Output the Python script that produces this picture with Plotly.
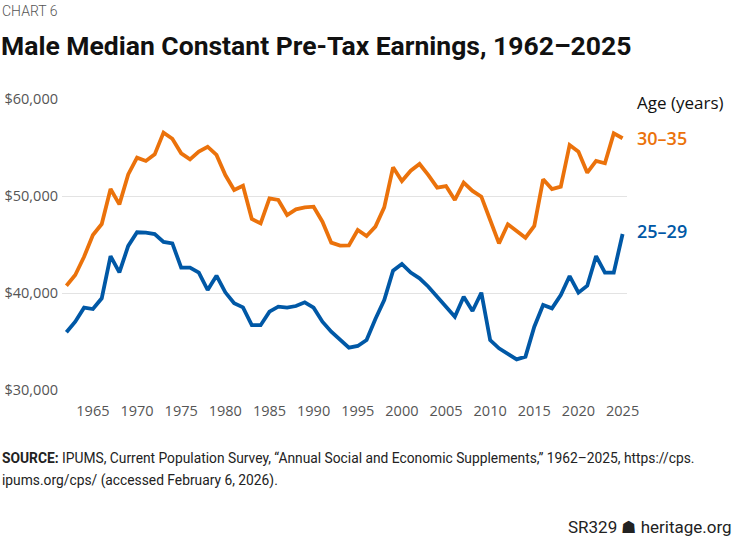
import plotly.graph_objects as go

years = list(range(1962, 2026))

age_30_35 = [40750, 41850, 43740, 45980, 47110, 50720, 49140, 52230, 53950, 53610,
             54290, 56530, 55900, 54400, 53780, 54570, 55080, 54230, 52160, 50620,
             51060, 47630, 47180, 49760, 49590, 48040, 48620, 48830, 48900, 47350,
             45190, 44880, 44900, 46500, 45880, 46840, 48830, 52960, 51550, 52610,
             53300, 52160, 50860, 51030, 49590, 51370, 50520, 49930, 47530, 45120,
             47080, 46390, 45700, 46910, 51720, 50720, 50960, 55260, 54570, 52400,
             53610, 53370, 56460, 55950]

age_25_29 = [35950, 37040, 38490, 38350, 39450, 43810, 42130, 44850, 46260, 46220,
             46080, 45260, 45120, 42610, 42610, 42100, 40310, 41790, 40070, 38940,
             38520, 36700, 36680, 38080, 38590, 38490, 38660, 39040, 38490, 37040,
             36010, 35150, 34360, 34540, 35150, 37320, 39280, 42300, 42990, 42100,
             41510, 40650, 39620, 38490, 37560, 39620, 38140, 40030, 35150, 34300,
             33680, 33160, 33440, 36530, 38760, 38420, 39790, 41750, 40030, 40750,
             43810, 42100, 42100, 46080]

y_ticks = [30000, 40000, 50000, 60000]
y_tick_labels = ["$30,000", "$40,000", "$50,000", "$60,000"]
x_ticks = list(range(1965, 2030, 5))

ORANGE = "#EB720B"
BLUE = "#0058A6"

W, H = 734, 539
L, R, T, B = 62, 107, 99, 149
PW, PH = W - L - R, H - T - B


def px(x):
    return (x - L) / PW


def py(y):
    return (H - B - y) / PH


fig = go.Figure()
fig.add_trace(go.Scatter(x=years, y=age_30_35, mode="lines", name="30–35",
                         line=dict(color=ORANGE, width=3.8), hoverinfo="x+y"))
fig.add_trace(go.Scatter(x=years, y=age_25_29, mode="lines", name="25–29",
                         line=dict(color=BLUE, width=3.8), hoverinfo="x+y"))

tick_font = dict(family="Open Sans", size=14.5, color="#555555")

fig.update_layout(
    width=W, height=H,
    margin=dict(l=L, r=R, t=T, b=B, pad=0),
    paper_bgcolor="white", plot_bgcolor="white",
    showlegend=False,
    xaxis=dict(range=[1961.5, 2025.5], tickvals=x_ticks, showgrid=False,
               zeroline=False, showline=False, ticks="", tickfont=tick_font,
               ticklabelstandoff=10, automargin=False, fixedrange=True),
    yaxis=dict(range=[30000, 60000], tickvals=y_ticks, ticktext=y_tick_labels,
               showgrid=True, gridcolor="#E3E3E3", gridwidth=1.2, zeroline=False,
               showline=False, ticks="", tickfont=tick_font,
               ticklabelstandoff=3, automargin=False, fixedrange=True),
)

ann = []
ann.append(dict(text="CHART 6", x=px(0), y=py(11), xanchor="left", yanchor="middle",
                font=dict(family="Roboto", size=14, color="#555555", weight=300)))
ann.append(dict(text="<b>Male Median Constant Pre-Tax Earnings, 1962–2025</b>",
                x=px(-1), y=py(46), xanchor="left", yanchor="middle",
                font=dict(family="Roboto", size=26.5, color="#111111")))
ann.append(dict(text="Age (years)", x=px(635), y=py(103), xanchor="left", yanchor="middle",
                font=dict(family="Open Sans", size=17, color="#111111")))
ann.append(dict(text="30–35", x=px(635), y=py(138), xanchor="left", yanchor="middle",
                font=dict(family="Open Sans", size=18, color=ORANGE, weight=600)))
ann.append(dict(text="25–29", x=px(635), y=py(231), xanchor="left", yanchor="middle",
                font=dict(family="Open Sans", size=18, color=BLUE, weight=600)))
src_font = dict(family="Roboto", size=13.8, color="#222222")
ann.append(dict(text="<b>SOURCE:</b> IPUMS, Current Population Survey, “Annual Social and Economic Supplements,” 1962–2025, https://cps.",
                x=px(0), y=py(458), xanchor="left", yanchor="middle", font=src_font))
ann.append(dict(text="ipums.org/cps/ (accessed February 6, 2026).",
                x=px(0), y=py(480), xanchor="left", yanchor="middle", font=src_font))
ann.append(dict(text="SR329 ☗ heritage.org", x=px(734), y=py(527), xanchor="right",
                yanchor="middle", font=dict(family="Roboto", size=17, color="#222222")))

for a in ann:
    a.update(xref="paper", yref="paper", showarrow=False)
fig.update_layout(annotations=ann)

fig.write_html("out.html")
